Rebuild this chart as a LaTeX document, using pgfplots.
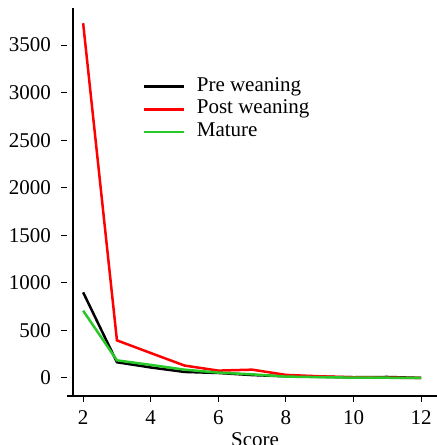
\documentclass[border=0pt]{standalone}
\usepackage{pgfplots}
\pgfplotsset{compat=1.18}
\usepackage{fontspec}
\setmainfont{Liberation Serif}
\newcommand{\bigf}{\fontsize{21bp}{25bp}\selectfont}
\definecolor{rgreen}{RGB}{40,200,40}
\begin{document}
\begin{tikzpicture}
\useasboundingbox (-73bp,-49bp) rectangle (364bp,396bp);
\begin{axis}[
  at={(0,0)}, anchor=south west,
  scale only axis, width=364bp, height=388bp,
  xmin=1.7, xmax=12.47, ymin=-190, ymax=3890,
  axis x line*=bottom, axis y line*=left,
  axis line style={line width=1.3bp, -},
  x axis line style={shorten <=-6bp},
  tick align=outside,
  major tick length=6bp,
  tick style={line width=1bp, black},
  ytick style={xshift=-6bp},
  xtick={2,4,6,8,10,12},
  ytick={0,500,1000,1500,2000,2500,3000,3500},
  scaled y ticks=false,
  /pgf/number format/.cd, 1000 sep={}, assume math mode=true, /pgfplots/.cd,
  tick label style={font=\bigf},
  yticklabel style={inner sep=0pt, xshift=-16bp},
  xticklabel style={inner sep=0pt, yshift=-8bp},
  xlabel={Score}, xlabel style={font=\bigf, yshift=-5bp},
  legend style={draw=none, fill=none, font=\bigf, at={(0.19,0.825)}, anchor=north west,
    row sep=1.8bp, inner sep=0pt, nodes={inner sep=0pt, text height=15bp, text depth=6bp}},
  legend cell align=left,
  legend image code/.code={\draw[#1, line width=2.5bp] (0bp,0bp) -- (40bp,0bp); \path (52bp,0bp);},
]
\addplot[black, line width=2.5bp] coordinates {(2,900) (3,165) (4,110) (5,63) (6,52) (7,30) (8,17) (9,12) (10,7) (11,10) (12,0)};
\addplot[red, line width=2.5bp] coordinates {(2,3730) (3,395) (4,262) (5,130) (6,77) (7,87) (8,32) (9,17) (10,7) (11,3) (12,0)};
\addplot[rgreen, line width=2.5bp] coordinates {(2,707) (3,185) (4,137) (5,87) (6,56) (7,38) (8,14) (9,8) (10,3) (11,2) (12,0)};
\legend{Pre weaning, Post weaning, Mature}
\end{axis}
\end{tikzpicture}
\end{document}
